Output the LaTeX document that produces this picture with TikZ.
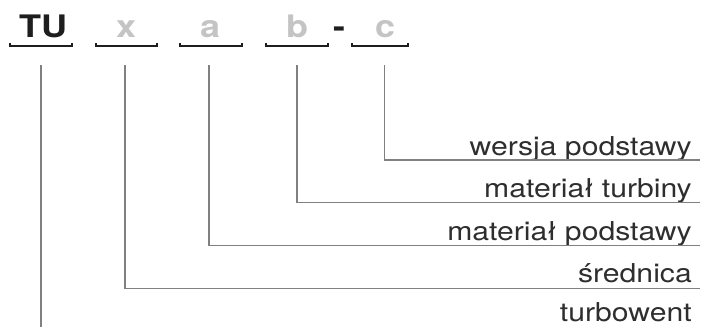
\documentclass[tikz,border=0pt]{standalone}
\usepackage{fontspec}
\setmainfont[FakeStretch=1.16]{TeX Gyre Heros}
\definecolor{ink}{HTML}{1E1E1E}
\definecolor{pale}{HTML}{C4C4C4}
\definecolor{wire}{HTML}{808080}
\definecolor{txt}{HTML}{2E2E2E}
\begin{document}
\begin{tikzpicture}[x=1pt,y=-1pt,
  code/.style={font=\fontsize{31}{31}\selectfont\bfseries, text=ink, anchor=base, inner sep=0pt},
  field/.style={code, text=pale},
  label/.style={font=\fontsize{26}{26}\selectfont, text=txt, anchor=base east, inner sep=0pt},
  bracket/.style={draw=ink, line width=1.1pt},
  wire/.style={draw=wire, line width=1.1pt}]
\useasboundingbox (0,0) rectangle (702,327);

% type code and its fields
\node[code]  (tu) at (43,37)  {TU};
\node[field] (fx) at (126,37) {x};
\node[field] (fa) at (210,37) {a};
\node[field] (fb) at (297,37) {b};
\node[code]  (dash) at (339,37) {-};
\node[field] (fc) at (385,37) {c};

% brackets under each field
\foreach \l/\r in {10/72, 96/157, 180/242, 266/328, 352/408}
  \draw[bracket] (\l,43) -- (\l,46) -- (\r,46) -- (\r,43);

% descriptions
\node[label] (dc)  at (692,155)   {wersja podstawy};
\node[label] (db)  at (692,197)   {materiał turbiny};
\node[label] (da)  at (692,240.5) {materiał podstawy};
\node[label] (dx)  at (692,282.5) {średnica};
\node[label] (dtu) at (692,321)   {turbowent};

% connector ends
\coordinate (tu-top) at (41,65);
\coordinate (tu-end) at (41,327);
\coordinate (x-top)  at (125,65);
\coordinate (x-end)  at (700,288.3);
\coordinate (a-top)  at (209,65);
\coordinate (a-end)  at (700,245.5);
\coordinate (b-top)  at (297,65);
\coordinate (b-end)  at (700,202.3);
\coordinate (c-top)  at (384.5,65);
\coordinate (c-end)  at (700,160);

% connectors
\draw[wire] (tu-top) -- (tu-end);
\draw[wire] (x-top) |- (x-end);
\draw[wire] (a-top) |- (a-end);
\draw[wire] (b-top) |- (b-end);
\draw[wire] (c-top) |- (c-end);
\end{tikzpicture}
\end{document}
